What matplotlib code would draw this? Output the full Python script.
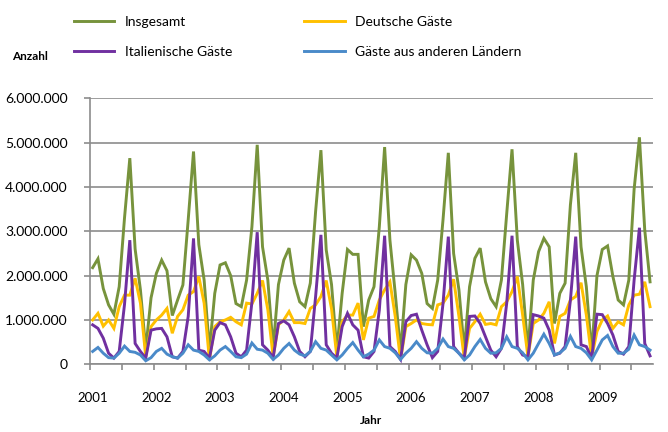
import numpy as np
import matplotlib
matplotlib.use("Agg")
import matplotlib.pyplot as plt
from matplotlib.ticker import FuncFormatter, FixedLocator

plt.rcParams['font.family'] = ['Lato', 'DejaVu Sans']

# Monthly values (millions), Jan 2001 - Oct 2009
insgesamt = [
    2.18, 2.38, 1.71, 1.34, 1.13, 1.75, 3.30, 4.65, 2.60, 1.68, 0.34, 1.50,
    2.05, 2.35, 2.11, 1.10, 1.45, 1.79, 3.26, 4.80, 2.70, 1.90, 0.32, 1.60,
    2.24, 2.29, 2.00, 1.37, 1.30, 1.90, 3.10, 4.95, 2.65, 1.90, 0.36, 1.80,
    2.35, 2.62, 1.83, 1.41, 1.30, 1.83, 3.45, 4.83, 2.58, 1.80, 0.32, 1.60,
    2.59, 2.48, 2.48, 0.85, 1.45, 1.75, 3.10, 4.90, 2.80, 1.60, 0.29, 1.80,
    2.47, 2.35, 2.05, 1.37, 1.26, 1.90, 3.26, 4.77, 2.50, 1.68, 0.32, 1.75,
    2.39, 2.62, 1.86, 1.48, 1.30, 1.90, 3.40, 4.85, 2.80, 1.80, 0.32, 1.90,
    2.54, 2.84, 2.65, 0.92, 1.60, 1.83, 3.60, 4.77, 2.65, 1.75, 0.25, 2.00,
    2.59, 2.67, 1.98, 1.45, 1.34, 1.90, 3.95, 5.12, 3.03, 1.86,
]
deutsche = [
    1.00, 1.15, 0.86, 1.00, 0.81, 1.30, 1.56, 1.56, 1.94, 1.38, 0.17, 0.85,
    1.00, 1.11, 1.26, 0.70, 1.08, 1.23, 1.56, 1.64, 1.98, 1.38, 0.10, 0.85,
    0.96, 1.00, 1.06, 0.96, 0.89, 1.38, 1.36, 1.60, 1.89, 1.23, 0.17, 0.89,
    1.00, 1.19, 0.94, 0.94, 0.92, 1.26, 1.34, 1.53, 1.89, 1.25, 0.17, 0.96,
    1.11, 1.11, 1.38, 0.55, 1.04, 1.08, 1.45, 1.68, 1.86, 1.08, 0.10, 0.85,
    0.92, 1.00, 0.92, 0.90, 0.89, 1.34, 1.38, 1.56, 1.92, 1.08, 0.14, 0.81,
    0.96, 1.13, 0.90, 0.92, 0.89, 1.30, 1.41, 1.64, 1.98, 1.11, 0.17, 0.92,
    1.00, 1.15, 1.41, 0.47, 1.08, 1.15, 1.45, 1.53, 1.84, 1.11, 0.15, 0.74,
    1.00, 1.09, 0.81, 0.96, 0.89, 1.34, 1.56, 1.58, 1.86, 1.30,
]
italienische = [
    0.89, 0.81, 0.59, 0.25, 0.14, 0.29, 1.35, 2.80, 0.47, 0.29, 0.14, 0.77,
    0.80, 0.81, 0.62, 0.17, 0.14, 0.29, 1.08, 2.84, 0.32, 0.29, 0.14, 0.77,
    0.94, 0.89, 0.62, 0.25, 0.17, 0.32, 1.40, 2.98, 0.44, 0.32, 0.15, 0.92,
    0.98, 0.89, 0.62, 0.29, 0.17, 0.29, 1.53, 2.92, 0.44, 0.25, 0.14, 0.85,
    1.15, 0.89, 0.77, 0.17, 0.14, 0.29, 1.22, 2.90, 0.40, 0.29, 0.11, 0.96,
    1.10, 1.13, 0.77, 0.44, 0.15, 0.29, 1.37, 2.88, 0.40, 0.25, 0.14, 1.08,
    1.09, 0.92, 0.62, 0.32, 0.17, 0.36, 1.38, 2.90, 0.40, 0.21, 0.17, 1.12,
    1.09, 1.04, 0.77, 0.21, 0.25, 0.40, 1.45, 2.88, 0.44, 0.40, 0.14, 1.13,
    1.12, 0.92, 0.66, 0.29, 0.23, 0.40, 1.90, 3.08, 0.47, 0.19,
]
andere = [
    0.29, 0.38, 0.25, 0.15, 0.14, 0.25, 0.41, 0.29, 0.27, 0.21, 0.08, 0.15,
    0.29, 0.36, 0.23, 0.17, 0.14, 0.25, 0.44, 0.32, 0.29, 0.21, 0.10, 0.19,
    0.32, 0.40, 0.29, 0.17, 0.15, 0.23, 0.48, 0.34, 0.32, 0.25, 0.11, 0.21,
    0.36, 0.47, 0.32, 0.23, 0.19, 0.29, 0.51, 0.36, 0.32, 0.21, 0.10, 0.21,
    0.36, 0.49, 0.32, 0.17, 0.23, 0.32, 0.55, 0.40, 0.36, 0.26, 0.11, 0.25,
    0.36, 0.51, 0.36, 0.26, 0.25, 0.36, 0.57, 0.40, 0.36, 0.25, 0.10, 0.21,
    0.40, 0.56, 0.36, 0.25, 0.26, 0.36, 0.62, 0.40, 0.36, 0.26, 0.10, 0.25,
    0.47, 0.68, 0.47, 0.21, 0.26, 0.36, 0.63, 0.40, 0.36, 0.26, 0.10, 0.32,
    0.55, 0.65, 0.40, 0.25, 0.25, 0.34, 0.66, 0.44, 0.40, 0.32,
]
years = ["2001", "2002", "2003", "2004", "2005", "2006", "2007", "2008", "2009"]
series_names = ["Insgesamt", "Deutsche Gäste", "Italienische Gäste", "Gäste aus anderen Ländern"]
colors = ["#77933C", "#FFC000", "#7030A0", "#4A8AC9"]

data = [insgesamt, deutsche, italienische, andere]
n = len(insgesamt)
x = np.arange(n)

fig = plt.figure(figsize=(6.68, 4.32), dpi=100)
ax = fig.add_axes([90/668, 1-364.3/432, (652.7-90)/668, (364.3-98.3)/432])

lines = []
for vals, c, name in zip(data, colors, series_names):
    ln, = ax.plot(x, np.array(vals) * 1e6, color=c, lw=2.1, label=name,
                  solid_joinstyle='miter', zorder=3)
    lines.append(ln)

ax.set_xlim(-0.5, n - 0.5)
ax.set_ylim(0, 6e6)
ax.set_yticks(np.arange(0, 6.1e6, 1e6))
ax.yaxis.set_major_formatter(FuncFormatter(lambda v, p: f"{int(round(v)):,}".replace(",", ".")))
ax.grid(axis='y', color='#8C8C8C', lw=1.2, zorder=1)
ax.set_axisbelow(True)

# x axis: tick marks every 6 months, year labels every 12 months
ax.xaxis.set_major_locator(FixedLocator(np.arange(-0.5, n, 6)))
ax.xaxis.set_major_formatter(FuncFormatter(lambda v, p: ""))
ax.set_xticks(np.arange(0, 12 * len(years), 12), labels=years, minor=True)
ax.tick_params(axis='x', which='major', length=4, width=1.2, color='#8C8C8C', direction='out')
ax.tick_params(axis='x', which='minor', length=0, pad=20, labelsize=9.5, labelcolor='black')
ax.tick_params(axis='y', length=4, width=1.2, color='#8C8C8C', direction='out', pad=12,
               labelsize=10, labelcolor='black')

for s in ['top', 'right']:
    ax.spines[s].set_visible(False)
for s in ['left', 'bottom']:
    ax.spines[s].set_color('#8C8C8C')
    ax.spines[s].set_linewidth(1.2)

fig.text(29.5/668, 1-57/432, "Anzahl", ha='center', va='center', fontsize=8.5, fontweight='bold')
fig.text(371/668, 1-421/432, "Jahr", ha='center', va='center', fontsize=8.5, fontweight='bold')

order = [0, 2, 1, 3]
fig.legend([lines[i] for i in order], [series_names[i] for i in order], ncol=2,
           loc='upper left', bbox_to_anchor=(74/668, 1-16/432), frameon=False,
           fontsize=10, handlelength=2.9, handletextpad=0.75, columnspacing=5.2,
           labelspacing=1.3, borderpad=0, borderaxespad=0)

fig.savefig("out.png", dpi=100)
